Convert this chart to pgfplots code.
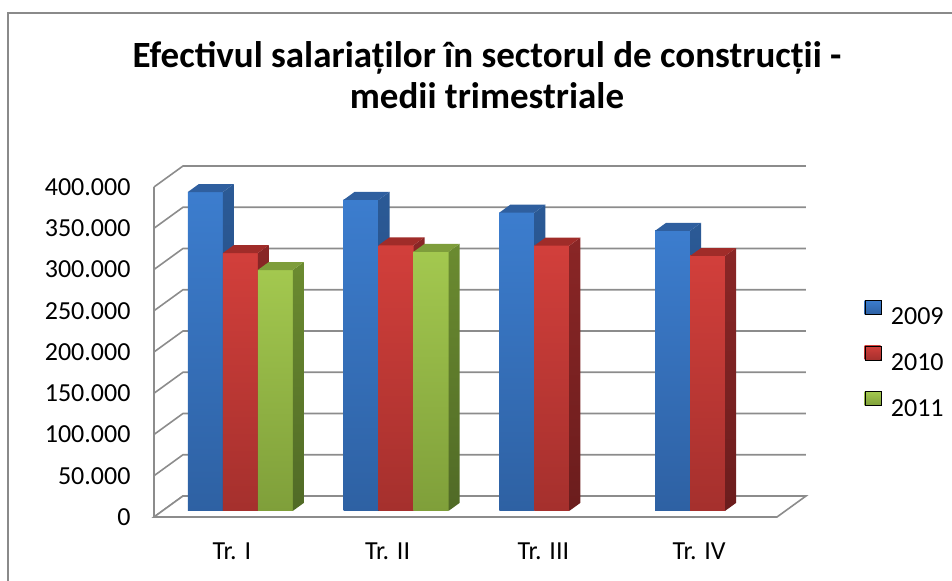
\documentclass[border=0pt]{standalone}
\usepackage{pgfplots}
\pgfplotsset{compat=1.18}
\usepackage{fontspec}
\setmainfont{Carlito}
\definecolor{gridc}{HTML}{8C8C8C}
\definecolor{frame}{HTML}{8A8A8A}
\definecolor{blueF1}{HTML}{3C7DCE}
\definecolor{blueF2}{HTML}{2E61A3}
\definecolor{blueS1}{HTML}{2B5A96}
\definecolor{blueS2}{HTML}{21467A}
\definecolor{blueT}{HTML}{2F5F9F}
\definecolor{redF1}{HTML}{D23F3B}
\definecolor{redF2}{HTML}{A5302D}
\definecolor{redS1}{HTML}{8A2626}
\definecolor{redS2}{HTML}{6B1D1D}
\definecolor{redT}{HTML}{A02C29}
\definecolor{greenF1}{HTML}{A3C84F}
\definecolor{greenF2}{HTML}{7F9F3A}
\definecolor{greenS1}{HTML}{6B8B30}
\definecolor{greenS2}{HTML}{506A26}
\definecolor{greenT}{HTML}{7E9D3B}
% #1 category index, #2 slot in group, #3 value (thousands), #4 colour prefix
\newcommand{\cuboid}[4]{%
 \pgfmathsetmacro\xa{#1+0.163+0.2247*#2+0.054}%
 \pgfmathsetmacro\xb{\xa+0.2247}%
 \pgfmathsetmacro\xc{\xb+0.0707}%
 \pgfmathsetmacro\xd{\xa+0.0707}%
 \pgfmathsetmacro\yb{#3+7.38}%
 \pgfmathsetmacro\yc{\yb+9.67}%
 \edef\cubecmd{%
  \noexpand\addplot[draw=none, top color=#4F1, bottom color=#4F2] coordinates {(\xa,7.38) (\xb,7.38) (\xb,\yb) (\xa,\yb)};
  \noexpand\addplot[draw=none, top color=#4S1, bottom color=#4S2] coordinates {(\xb,7.38) (\xc,17.05) (\xc,\yc) (\xb,\yb)};
  \noexpand\addplot[draw=none, fill=#4T] coordinates {(\xa,\yb) (\xb,\yb) (\xc,\yc) (\xd,\yc)};
 }\cubecmd}
\begin{document}
\begin{tikzpicture}
\path[use as bounding box] (0,0) rectangle (952bp,581bp);
\draw[frame, line width=1.5bp] (8bp,-10bp) rectangle (975bp,568bp);
\node[anchor=base, font=\fontsize{37bp}{42bp}\selectfont\bfseries, inner sep=0pt] at (487bp,513bp) {Efectivul salariaților în sectorul de construcții -};
\node[anchor=base, font=\fontsize{37bp}{42bp}\selectfont\bfseries, inner sep=0pt] at (487bp,472bp) {medii trimestriale};
\begin{axis}[
  anchor=origin, at={(154bp,64bp)},
  x=155.75bp, y=0.825bp,
  xmin=0, xmax=4.186, ymin=0, ymax=425.45,
  clip=false,
  axis line style={draw=none},
  major tick length=0pt,
  /pgf/number format/assume math mode=true,
  ticklabel style={font=\fontsize{26bp}{30bp}\selectfont},
  xtick={0.5,1.5,2.5,3.5},
  xticklabels={Tr. I,Tr. II,Tr. III,Tr. IV},
  xticklabel style={yshift=-22bp},
  ytick={0,50,100,150,200,250,300,350,400},
  yticklabels={0,50.000,100.000,150.000,200.000,250.000,300.000,350.000,400.000},
  yticklabel style={xshift=-20bp},
  legend image code/.code={\fill[#1] (0bp,1.5bp) rectangle (16bp,15.5bp);},
  legend style={at={(1.152,0.45)}, anchor=center, draw=none, fill=none,
    font=\fontsize{26bp}{30bp}\selectfont, row sep=19bp,
    nodes={inner sep=2bp, text height=18bp, text depth=0bp},
    /tikz/every odd column/.style={column sep=8bp}},
  legend cell align=left,
]
% legend
\addlegendimage{top color=blueF1, bottom color=blueF2}
\addlegendentry{2009}
\addlegendimage{top color=redF1, bottom color=redF2}
\addlegendentry{2010}
\addlegendimage{top color=greenF1, bottom color=greenF2}
\addlegendentry{2011}
% back wall grid lines with side-wall diagonals
\addplot[gridc, line width=1.6bp] coordinates {(0,0) (0.186,25.45) (4.186,25.45)};
\addplot[gridc, line width=1.6bp] coordinates {(0,50) (0.186,75.45) (4.186,75.45)};
\addplot[gridc, line width=1.6bp] coordinates {(0,100) (0.186,125.45) (4.186,125.45)};
\addplot[gridc, line width=1.6bp] coordinates {(0,150) (0.186,175.45) (4.186,175.45)};
\addplot[gridc, line width=1.6bp] coordinates {(0,200) (0.186,225.45) (4.186,225.45)};
\addplot[gridc, line width=1.6bp] coordinates {(0,250) (0.186,275.45) (4.186,275.45)};
\addplot[gridc, line width=1.6bp] coordinates {(0,300) (0.186,325.45) (4.186,325.45)};
\addplot[gridc, line width=1.6bp] coordinates {(0,350) (0.186,375.45) (4.186,375.45)};
\addplot[gridc, line width=1.6bp] coordinates {(0,400) (0.186,425.45) (4.186,425.45)};
% floor
\addplot[fill=white, draw=gridc, line width=1.6bp] coordinates {(0,0) (4,0) (4.186,25.45) (0.186,25.45)} -- cycle;
% front-left edge
\addplot[gridc, line width=1.6bp] coordinates {(0,0) (0,400)};
% bars: Tr. I .. Tr. IV ; 2009, 2010, 2011
\cuboid{0}{0}{386.5}{blue}
\cuboid{0}{1}{312.5}{red}
\cuboid{0}{2}{292}{green}
\cuboid{1}{0}{377}{blue}
\cuboid{1}{1}{322}{red}
\cuboid{1}{2}{314}{green}
\cuboid{2}{0}{361.5}{blue}
\cuboid{2}{1}{321.5}{red}
\cuboid{3}{0}{339.5}{blue}
\cuboid{3}{1}{309}{red}
\end{axis}
\end{tikzpicture}
\end{document}
